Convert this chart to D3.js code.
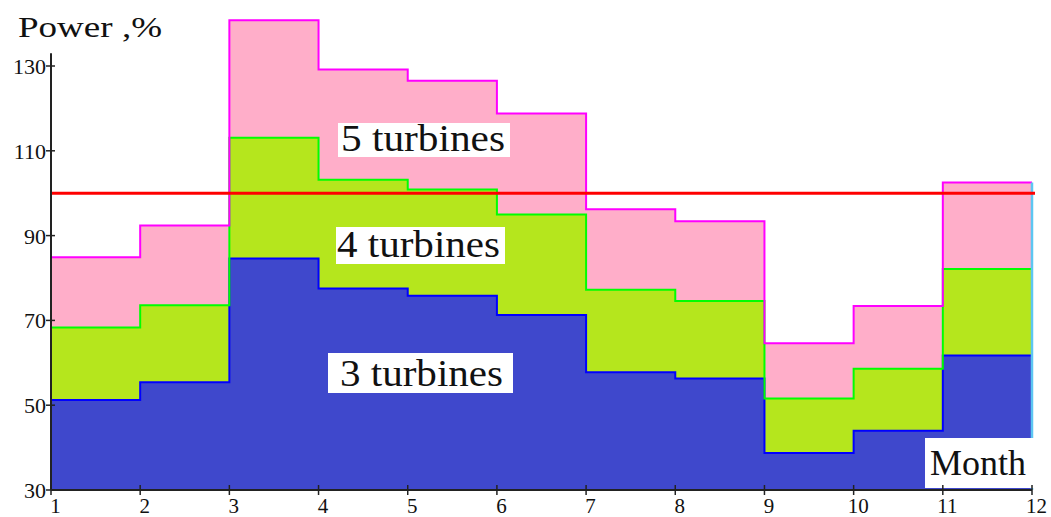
<!DOCTYPE html>
<html>
<head>
<meta charset="utf-8">
<script src="https://cdn.jsdelivr.net/npm/d3@7"></script>
<style>
  html, body { margin: 0; padding: 0; background: #fff; }
  svg { display: block; }
  text { font-family: "Liberation Serif", "Times New Roman", serif; fill: #111; }
</style>
</head>
<body>
<svg id="chart" width="1051" height="517"></svg>
<script>
// Monthly available power (% of demand) for 3, 4 and 5 turbines in operation.
const monthTicks = [1, 2, 3, 4, 5, 6, 7, 8, 9, 10, 11, 12];
const powerTicks = [30, 50, 70, 90, 110, 130];
const months = [1, 2, 3, 4, 5, 6, 7, 8, 9, 10, 11];
const turbines3 = [51.2, 55.4, 84.6, 77.5, 75.8, 71.3, 57.8, 56.3, 38.7, 44.0, 61.7];
const turbines4 = [68.3, 73.6, 113.1, 103.2, 100.9, 95.0, 77.2, 74.6, 51.6, 58.6, 82.1];
const turbines5 = [84.9, 92.4, 140.8, 129.2, 126.5, 118.8, 96.2, 93.4, 64.6, 73.4, 102.5];
const demandLevel = 100;
const seriesLabels = ["3 turbines", "4 turbines", "5 turbines"];

const svg = d3.select("#chart");
const x = d3.scaleLinear().domain([1, 12]).range([51, 1032]);
const y = d3.scaleLinear().domain([30, 130]).range([490, 66]);

// step points: each month's value holds until the next month, the last one until month 12
function stepPoints(values) {
  const pts = months.map((m, i) => [m, values[i]]);
  pts.push([12, values[values.length - 1]]);
  return pts;
}

const area = d3.area()
  .x(d => x(d[0])).y0(y(30)).y1(d => y(d[1]))
  .curve(d3.curveStepAfter);
const line = d3.line()
  .x(d => x(d[0])).y(d => y(d[1]))
  .curve(d3.curveStepAfter);

const series = [
  { values: turbines5, fill: "#FFAEC9", stroke: "#FF00FF" },
  { values: turbines4, fill: "#B5E61D", stroke: "#00FF00" },
  { values: turbines3, fill: "#3F48CC", stroke: "#0000FF" }
];

// fills: largest first so smaller ones sit on top
series.forEach(s => {
  svg.append("path").attr("d", area(stepPoints(s.values)))
    .attr("fill", s.fill).attr("stroke", "none");
});
// outlines: smallest first so the upper outlines stay visible
series.slice().reverse().forEach(s => {
  svg.append("path").attr("d", line(stepPoints(s.values)))
    .attr("fill", "none").attr("stroke", s.stroke).attr("stroke-width", 2);
});

// closing edge at month 12
svg.append("line")
  .attr("x1", x(12)).attr("x2", x(12))
  .attr("y1", y(turbines5[turbines5.length - 1])).attr("y2", y(30))
  .attr("stroke", "#5CC6F2").attr("stroke-width", 2.5);

// 100 % demand line
svg.append("line")
  .attr("x1", x(1)).attr("x2", x(12) + 3)
  .attr("y1", y(demandLevel)).attr("y2", y(demandLevel))
  .attr("stroke", "#FF0000").attr("stroke-width", 3);

// series labels on white boxes
const labelSpecs = [
  { text: seriesLabels[2], box: [338, 123, 172, 34], tx: 341, ty: 151, len: 164 },
  { text: seriesLabels[1], box: [336, 227, 169, 37], tx: 337, ty: 257, len: 163 },
  { text: seriesLabels[0], box: [328, 353, 185, 40], tx: 340, ty: 386, len: 163 }
];
labelSpecs.forEach(l => {
  svg.append("rect").attr("x", l.box[0]).attr("y", l.box[1])
    .attr("width", l.box[2]).attr("height", l.box[3]).attr("fill", "#fff");
  svg.append("text").attr("x", l.tx).attr("y", l.ty)
    .attr("font-size", 37).attr("textLength", l.len)
    .attr("lengthAdjust", "spacingAndGlyphs").text(l.text);
});

// x-axis caption box
svg.append("rect").attr("x", 925).attr("y", 438).attr("width", 109).attr("height", 50).attr("fill", "#fff");
svg.append("text").attr("x", 930).attr("y", 475).attr("font-size", 35)
  .attr("textLength", 96).attr("lengthAdjust", "spacingAndGlyphs").text("Month");

// axes
const axisColor = "#222";
svg.append("line").attr("x1", x(1)).attr("x2", x(1))
  .attr("y1", y(30)).attr("y2", y(133)).attr("stroke", axisColor).attr("stroke-width", 2);
svg.append("line").attr("x1", x(1)).attr("x2", x(12))
  .attr("y1", y(30)).attr("y2", y(30)).attr("stroke", axisColor).attr("stroke-width", 2);

const yAxis = svg.append("g");
powerTicks.forEach(v => {
  yAxis.append("line").attr("x1", x(1) - 5).attr("x2", x(1) + 4)
    .attr("y1", y(v)).attr("y2", y(v)).attr("stroke", axisColor).attr("stroke-width", 1.5);
  yAxis.append("text").attr("x", 46).attr("y", y(v) + 8)
    .attr("text-anchor", "end").attr("font-size", 22).text(v);
});

const xAxis = svg.append("g");
monthTicks.forEach(m => {
  xAxis.append("line").attr("x1", x(m)).attr("x2", x(m))
    .attr("y1", y(30) - 5).attr("y2", y(30) + 5).attr("stroke", axisColor).attr("stroke-width", 1.5);
  xAxis.append("text").attr("x", x(m) + 4.5).attr("y", 513)
    .attr("text-anchor", "middle").attr("font-size", 21).text(m);
});

// y-axis title
svg.append("text").attr("x", 18).attr("y", 37).attr("font-size", 30)
  .attr("textLength", 144).attr("lengthAdjust", "spacingAndGlyphs").text("Power ,%");
</script>
</body>
</html>
